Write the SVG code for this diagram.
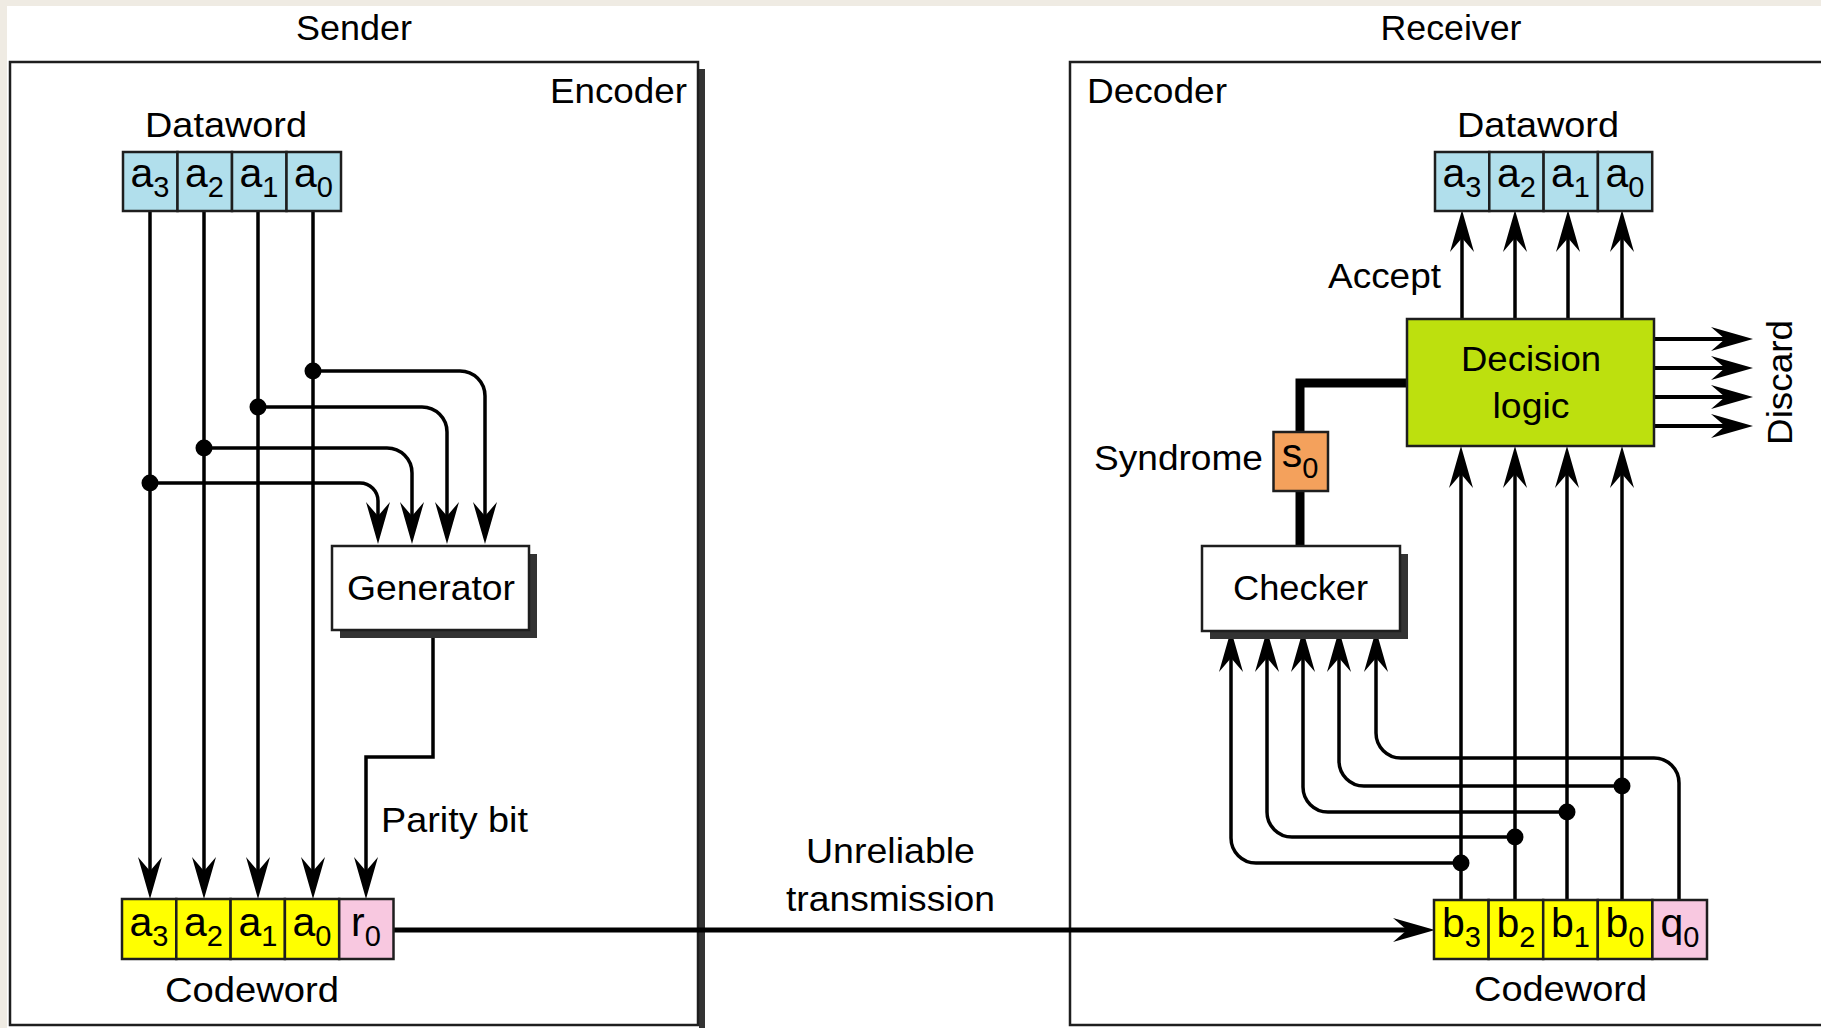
<svg xmlns="http://www.w3.org/2000/svg" width="1821" height="1028" viewBox="0 0 1821 1028">
<defs>
<style>
.t{font-family:"Liberation Sans",Arial,sans-serif;font-size:35px;fill:#000}
.c{font-family:"Liberation Sans",Arial,sans-serif;font-size:41px;fill:#000;text-anchor:middle}
.sub{font-size:29px}
.cell{stroke:#1e1e1e;stroke-width:2.5}
.blue{fill:#B1DFEC}
.yel{fill:#FFFF00}
.pink{fill:#F8C8E0}
.ln{fill:none;stroke:#000;stroke-width:3.5}
.arr{marker-end:url(#ah)}
.dot{fill:#000}
.shadow{fill:#333}
</style>
<marker id="ah" markerUnits="userSpaceOnUse" viewBox="0 -13 42 26" refX="29" refY="0" markerWidth="42" markerHeight="26" orient="auto">
<path d="M0,-12 L42,0 L0,12 L14,0 Z" fill="#000"/>
</marker>
</defs>
<rect x="0" y="0" width="1821" height="1028" fill="#EFEBE3"/>
<rect x="7" y="6" width="1814" height="1022" fill="#FFFFFF"/>

<g id="sender-label"><text class="t" x="354" y="40" text-anchor="middle" textLength="116" lengthAdjust="spacingAndGlyphs">Sender</text></g>
<g id="receiver-label"><text class="t" x="1451" y="40" text-anchor="middle" textLength="141" lengthAdjust="spacingAndGlyphs">Receiver</text></g>

<g id="encoder">
<rect x="699" y="69" width="6" height="959" class="shadow"/>
<rect x="10" y="62" width="688" height="963" fill="none" stroke="#1e1e1e" stroke-width="2.5"/>
<text class="t" x="550" y="103" textLength="137" lengthAdjust="spacingAndGlyphs">Encoder</text>
</g>

<g id="decoder">
<rect x="1070" y="62" width="800" height="963" fill="none" stroke="#1e1e1e" stroke-width="2.5"/>
<text class="t" x="1087" y="103" textLength="140" lengthAdjust="spacingAndGlyphs">Decoder</text>
</g>

<g id="connectors">
<g class="ln arr">
<path d="M150,211 V886"/>
<path d="M204,211 V886"/>
<path d="M258,211 V886"/>
<path d="M313,211 V886"/>
<path d="M433,630 V757 H366 V886"/>
<path d="M313,371 H460 A25,25 0 0 1 485,396 V531"/>
<path d="M258,407 H422 A25,25 0 0 1 447,432 V531"/>
<path d="M204,448 H387 A25,25 0 0 1 412,473 V531"/>
<path d="M150,483 H360 A18,18 0 0 1 378,501 V531"/>
<path d="M393,930 H1422" stroke-width="5"/>
<path d="M1461,900 V459"/>
<path d="M1515,900 V459"/>
<path d="M1567,900 V459"/>
<path d="M1622,900 V459"/>
<path d="M1462,319 V223"/>
<path d="M1515,319 V223"/>
<path d="M1568,319 V223"/>
<path d="M1622,319 V223"/>
<path d="M1461,863 H1256 A25,25 0 0 1 1231,838 V643"/>
<path d="M1515,837 H1292 A25,25 0 0 1 1267,812 V643"/>
<path d="M1567,812 H1328 A25,25 0 0 1 1303,787 V643"/>
<path d="M1622,786 H1364 A25,25 0 0 1 1339,761 V643"/>
<path d="M1679,900 V783 A25,25 0 0 0 1654,758 H1401 A25,25 0 0 1 1376,733 V643"/>
<path d="M1654,339 H1740" stroke-width="4"/>
<path d="M1654,368 H1740" stroke-width="4"/>
<path d="M1654,397 H1740" stroke-width="4"/>
<path d="M1654,426 H1740" stroke-width="4"/>
</g>
<path d="M1407,383 H1300 V432" fill="none" stroke="#000" stroke-width="9" stroke-linejoin="miter"/>
<path d="M1300,491 V546" fill="none" stroke="#000" stroke-width="9"/>
<circle class="dot" cx="313" cy="371" r="8.5"/>
<circle class="dot" cx="258" cy="407" r="8.5"/>
<circle class="dot" cx="204" cy="448" r="8.5"/>
<circle class="dot" cx="150" cy="483" r="8.5"/>
<circle class="dot" cx="1461" cy="863" r="8.5"/>
<circle class="dot" cx="1515" cy="837" r="8.5"/>
<circle class="dot" cx="1567" cy="812" r="8.5"/>
<circle class="dot" cx="1622" cy="786" r="8.5"/>
</g>

<g id="dataword-tx">
<text class="t" x="145" y="137" textLength="162" lengthAdjust="spacingAndGlyphs">Dataword</text>
<rect class="cell blue" x="123" y="152" width="54.5" height="59"/>
<rect class="cell blue" x="177.5" y="152" width="54.5" height="59"/>
<rect class="cell blue" x="232" y="152" width="54.5" height="59"/>
<rect class="cell blue" x="286.5" y="152" width="54.5" height="59"/>
<text class="c" x="150" y="187">a<tspan class="sub" dy="10">3</tspan></text>
<text class="c" x="204.5" y="187">a<tspan class="sub" dy="10">2</tspan></text>
<text class="c" x="259" y="187">a<tspan class="sub" dy="10">1</tspan></text>
<text class="c" x="313.5" y="187">a<tspan class="sub" dy="10">0</tspan></text>
</g>

<g id="generator">
<rect x="340" y="554" width="197" height="84" class="shadow"/>
<rect x="332" y="546" width="197" height="84" fill="#fff" stroke="#1e1e1e" stroke-width="2.5"/>
<text class="t" x="347" y="600" textLength="168" lengthAdjust="spacingAndGlyphs">Generator</text>
</g>

<g id="parity-label"><text class="t" x="381" y="832" textLength="147" lengthAdjust="spacingAndGlyphs">Parity bit</text></g>

<g id="codeword-tx">
<rect class="cell yel" x="122" y="899" width="54.3" height="60"/>
<rect class="cell yel" x="176.3" y="899" width="54.3" height="60"/>
<rect class="cell yel" x="230.6" y="899" width="54.3" height="60"/>
<rect class="cell yel" x="284.9" y="899" width="54.3" height="60"/>
<rect class="cell pink" x="339.2" y="899" width="54.3" height="60"/>
<text class="c" x="149" y="936">a<tspan class="sub" dy="10">3</tspan></text>
<text class="c" x="203.5" y="936">a<tspan class="sub" dy="10">2</tspan></text>
<text class="c" x="258" y="936">a<tspan class="sub" dy="10">1</tspan></text>
<text class="c" x="312" y="936">a<tspan class="sub" dy="10">0</tspan></text>
<text class="c" x="366" y="936">r<tspan class="sub" dy="10">0</tspan></text>
<text class="t" x="165" y="1002" textLength="174" lengthAdjust="spacingAndGlyphs">Codeword</text>
</g>

<g id="transmission-label">
<text class="t" x="890.5" y="863" text-anchor="middle" textLength="169" lengthAdjust="spacingAndGlyphs">Unreliable</text>
<text class="t" x="890.5" y="911" text-anchor="middle" textLength="209" lengthAdjust="spacingAndGlyphs">transmission</text>
</g>

<g id="dataword-rx">
<text class="t" x="1457" y="137" textLength="162" lengthAdjust="spacingAndGlyphs">Dataword</text>
<rect class="cell blue" x="1435" y="152" width="54.3" height="59"/>
<rect class="cell blue" x="1489.3" y="152" width="54.3" height="59"/>
<rect class="cell blue" x="1543.6" y="152" width="54.3" height="59"/>
<rect class="cell blue" x="1597.9" y="152" width="54.3" height="59"/>
<text class="c" x="1462" y="187">a<tspan class="sub" dy="10">3</tspan></text>
<text class="c" x="1516.5" y="187">a<tspan class="sub" dy="10">2</tspan></text>
<text class="c" x="1570.5" y="187">a<tspan class="sub" dy="10">1</tspan></text>
<text class="c" x="1625" y="187">a<tspan class="sub" dy="10">0</tspan></text>
</g>

<g id="accept-label"><text class="t" x="1328" y="288" textLength="113" lengthAdjust="spacingAndGlyphs">Accept</text></g>

<g id="decision-logic">
<rect x="1407" y="319" width="247" height="127" fill="#BDE00E" stroke="#1e1e1e" stroke-width="2.5"/>
<text class="t" x="1531" y="371" text-anchor="middle" font-size="38" textLength="140" lengthAdjust="spacingAndGlyphs">Decision</text>
<text class="t" x="1531" y="418" text-anchor="middle" font-size="38" textLength="77" lengthAdjust="spacingAndGlyphs">logic</text>
</g>

<g id="discard-label"><text class="t" transform="translate(1792,382.5) rotate(-90)" x="0" y="0" text-anchor="middle" font-size="37" textLength="125" lengthAdjust="spacingAndGlyphs">Discard</text></g>

<g id="syndrome">
<text class="t" x="1094" y="470" textLength="169" lengthAdjust="spacingAndGlyphs">Syndrome</text>
<rect x="1273.5" y="432" width="54.5" height="59" fill="#F4A15C" stroke="#1e1e1e" stroke-width="2.5"/>
<text class="c" x="1300" y="467" font-size="38">s<tspan class="sub" dy="11">0</tspan></text>
</g>

<g id="checker">
<rect x="1210" y="554" width="198" height="85" class="shadow"/>
<rect x="1202" y="546" width="198" height="85" fill="#fff" stroke="#1e1e1e" stroke-width="2.5"/>
<text class="t" x="1233" y="600" textLength="135" lengthAdjust="spacingAndGlyphs">Checker</text>
</g>

<g id="codeword-rx">
<rect class="cell yel" x="1434" y="900" width="54.6" height="59"/>
<rect class="cell yel" x="1488.6" y="900" width="54.6" height="59"/>
<rect class="cell yel" x="1543.2" y="900" width="54.6" height="59"/>
<rect class="cell yel" x="1597.8" y="900" width="54.6" height="59"/>
<rect class="cell pink" x="1652.4" y="900" width="54.6" height="59"/>
<text class="c" x="1461.5" y="937">b<tspan class="sub" dy="10">3</tspan></text>
<text class="c" x="1516" y="937">b<tspan class="sub" dy="10">2</tspan></text>
<text class="c" x="1570.5" y="937">b<tspan class="sub" dy="10">1</tspan></text>
<text class="c" x="1625" y="937">b<tspan class="sub" dy="10">0</tspan></text>
<text class="c" x="1680" y="937">q<tspan class="sub" dy="10">0</tspan></text>
<text class="t" x="1474" y="1001" textLength="173" lengthAdjust="spacingAndGlyphs">Codeword</text>
</g>
</svg>
